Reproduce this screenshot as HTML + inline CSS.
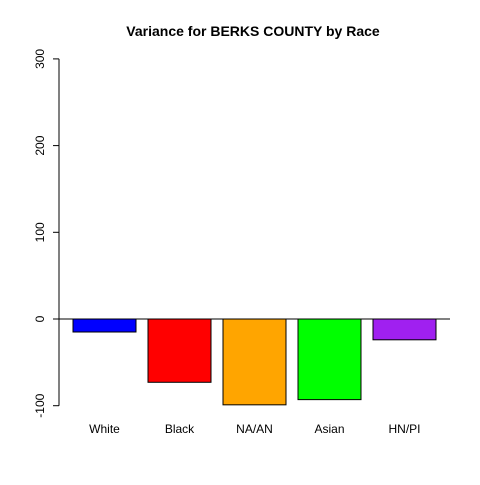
<!DOCTYPE html>
<html><head><meta charset="utf-8"><style>
body{margin:0;background:#fff;}
text{font-family:"Liberation Sans",Arial,sans-serif;}
</style></head><body>
<svg id="chart" width="480" height="480" xmlns="http://www.w3.org/2000/svg">
<rect width="480" height="480" fill="#fff"/>
<text x="253" y="36" text-anchor="middle" font-size="14" font-weight="bold">Variance for BERKS COUNTY by Race</text>
<g id="axis"></g>
<g id="bars"></g>
<line x1="59" x2="450" y1="319" y2="319" stroke="#000"/>
</svg>
<script>
const categories=["White","Black","NA/AN","Asian","HN/PI"];
const values=[-15,-73,-99,-93,-24];
const colors=["#0000ff","#ff0000","#ffa500","#00ff00","#a020f0"];
const ticks=[-100,0,100,200,300];
const ns="http://www.w3.org/2000/svg";
function y(v){return 319-v*0.867;}
function xl(i){return 73+i*75;}
const svg=document.getElementById('chart');
const ax=document.getElementById('axis');
const bg=document.getElementById('bars');
function mk(t,a,p){const e=document.createElementNS(ns,t);for(const k in a)e.setAttribute(k,a[k]);p.appendChild(e);return e;}
const al=mk('line',{x1:59,x2:59,y1:y(ticks[ticks.length-1]),y2:y(ticks[0]),stroke:'#000'},ax);


ticks.forEach(t=>{
 const l=mk('line',{x1:53,x2:59,y1:y(t),y2:y(t),stroke:'#000'},ax);
 
 
 const tx=mk('text',{x:44,y:y(t),'font-size':12,'text-anchor':'middle',transform:`rotate(-90 44 ${y(t)})`},ax);
 tx.textContent=t;
 
 
});
values.forEach((v,i)=>{
 const y0=y(0),y1=y(v);
 const r=mk('rect',{x:xl(i),y:Math.min(y0,y1),width:63,height:Math.abs(y1-y0),fill:colors[i],stroke:'#000'},bg);
 
 
 const tx=mk('text',{x:xl(i)+31.5,y:433,'font-size':12,'text-anchor':'middle'},bg);
 tx.textContent=categories[i];
 
 
});
</script>
</body></html>
